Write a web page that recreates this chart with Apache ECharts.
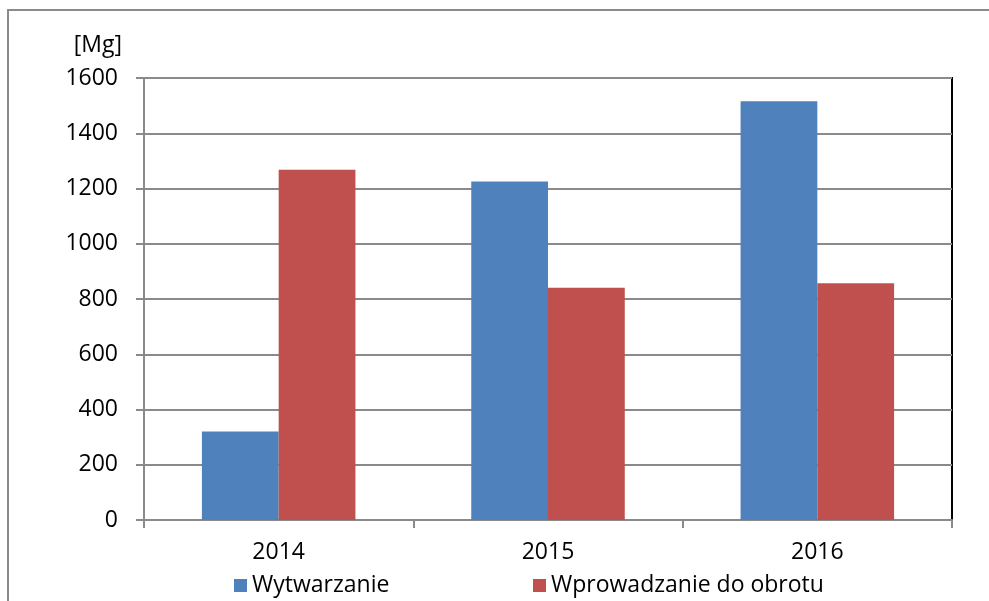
<!DOCTYPE html>
<html>
<head>
<meta charset="utf-8">
<script src="https://cdn.jsdelivr.net/npm/echarts@6/dist/echarts.min.js"></script>
<style>
  html, body { margin: 0; padding: 0; background: #fff; }
  #chart { width: 989px; height: 601px; }
</style>
</head>
<body>
<div id="chart"></div>
<script>
const years = ["2014", "2015", "2016"];
const wytwarzanie = [320, 1225, 1516];
const wprowadzanie = [1268, 841, 857];
const yTicks = { min: 0, max: 1600, interval: 200 };

const font = "'Open Sans', Lato, sans-serif";
const fs = 23;
const gray = "#8a8a8a";

const chart = echarts.init(document.getElementById("chart"), null, { renderer: "canvas" });

chart.setOption({
  animation: false,
  textStyle: { fontFamily: font },
  graphic: [{
    type: "rect",
    shape: { x: 8, y: 10, width: 1000, height: 620 },
    style: { fill: "none", stroke: gray, lineWidth: 2 },
    z: -1
  }],
  grid: {
    left: 144, right: 37, top: 78, bottom: 81,
    show: true, borderColor: "#000", borderWidth: 2, backgroundColor: "transparent"
  },
  legend: [
    {
      data: ["Wytwarzanie"], left: 229, top: 569,
      itemWidth: 13, itemHeight: 13, icon: "rect",
      textStyle: { fontFamily: font, fontSize: fs, color: "#000" }
    },
    {
      data: ["Wprowadzanie do obrotu"], left: 528, top: 569,
      itemWidth: 13, itemHeight: 13, icon: "rect",
      textStyle: { fontFamily: font, fontSize: fs, color: "#000" }
    }
  ],
  xAxis: {
    type: "category",
    data: years,
    axisLine: { lineStyle: { color: gray, width: 2 } },
    axisTick: { show: true, length: 8, alignWithLabel: false, lineStyle: { color: gray, width: 2 } },
    axisLabel: { margin: 21, fontSize: fs, color: "#000", fontFamily: font },
    splitLine: { show: false }
  },
  yAxis: {
    type: "value",
    min: yTicks.min, max: yTicks.max, interval: yTicks.interval,
    name: "[Mg]",
    nameLocation: "end",
    nameGap: 21,
    nameTextStyle: { fontSize: fs, color: "#000", align: "right", padding: [0, 22, 0, 0], fontFamily: font },
    axisLine: { show: true, lineStyle: { color: gray, width: 2 } },
    axisTick: { show: true, length: 8, lineStyle: { color: gray, width: 2 } },
    axisLabel: { margin: 26, fontSize: fs, color: "#000", fontFamily: font, formatter: v => String(v) },
    splitLine: { show: true, lineStyle: { color: gray, width: 2 } }
  },
  series: [
    {
      name: "Wytwarzanie", type: "bar", data: wytwarzanie,
      itemStyle: { color: "#4F81BD" },
      barGap: "0%", barCategoryGap: "43%"
    },
    {
      name: "Wprowadzanie do obrotu", type: "bar", data: wprowadzanie,
      itemStyle: { color: "#C0504D" },
      barGap: "0%", barCategoryGap: "43%"
    }
  ]
});
</script>
</body>
</html>
